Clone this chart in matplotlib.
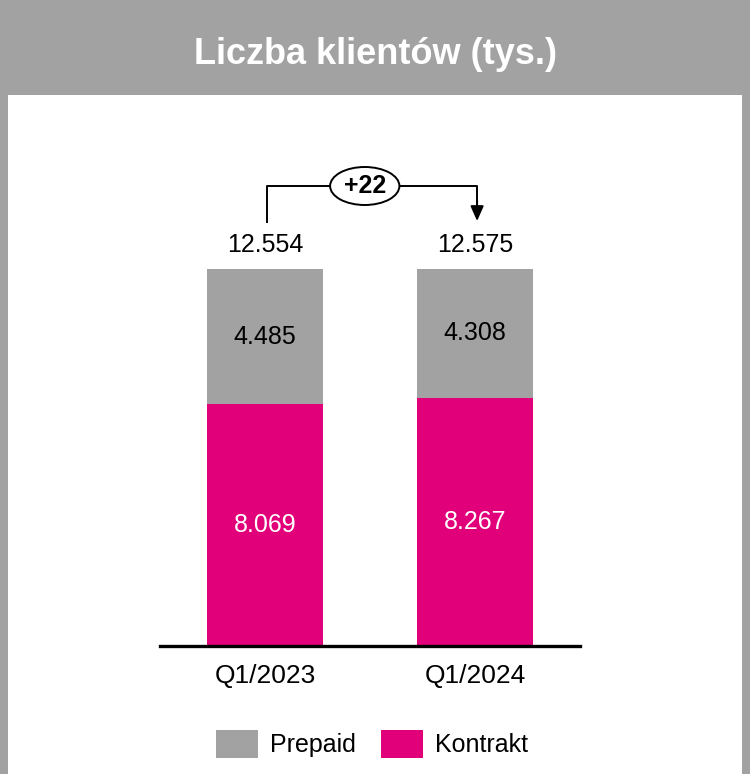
import matplotlib
matplotlib.use("Agg")
import matplotlib.pyplot as plt
from matplotlib.patches import Rectangle, Ellipse, Patch

categories = ["Q1/2023", "Q1/2024"]
kontrakt = [8.069, 8.267]
prepaid = [4.485, 4.308]
totals = [12.554, 12.575]
delta_label = "+22"
title = "Liczba klientów (tys.)"

GRAY = "#a2a2a2"
MAGENTA = "#e2007a"
FONT = ["Liberation Sans", "DejaVu Sans"]
plt.rcParams["font.family"] = FONT

W, H = 750, 774
fig = plt.figure(figsize=(W / 100, H / 100), dpi=100)
fig.patch.set_facecolor(GRAY)

# white panel
fig.patches.append(Rectangle((8 / W, 0), (742 - 8) / W, (H - 95) / H,
                             transform=fig.transFigure, facecolor="white",
                             edgecolor="none", zorder=-1))
fig.text(375 / W, 1 - 55 / H, title, ha="center", va="center",
         color="white", fontsize=26, fontweight="bold")

# axes: x 160..580 px, y baseline 646 .. top 150
ax = fig.add_axes([160 / W, 1 - 646 / H, 420 / W, (646 - 150) / H])
ax.set_xlim(-0.5, 1.5)
ax.set_ylim(0, (646 - 150) / 30.0)
ax.patch.set_alpha(0)
x = list(range(len(categories)))
bw = 0.557
ax.bar(x, kontrakt, width=bw, color=MAGENTA, zorder=2)
ax.bar(x, prepaid, width=bw, bottom=kontrakt, color=GRAY, zorder=2)

for i in x:
    ax.text(i, kontrakt[i] / 2, f"{kontrakt[i]:.3f}", ha="center", va="center",
            color="white", fontsize=18)
    ax.text(i, kontrakt[i] + prepaid[i] / 2, f"{prepaid[i]:.3f}", ha="center",
            va="center", color="black", fontsize=18)
    ax.text(i, totals[i] + 0.8, f"{totals[i]:.3f}", ha="center", va="center",
            color="black", fontsize=18)

for s in ["left", "right", "top"]:
    ax.spines[s].set_visible(False)
ax.spines["bottom"].set_linewidth(2.4)
ax.spines["bottom"].set_zorder(3)
ax.set_yticks([])
ax.set_xticks(x)
ax.set_xticklabels(categories, fontsize=19)
ax.tick_params(axis="x", length=0, pad=13)

# bracket annotation (positions in data units, 30 px per unit)
y_br = (646 - 186) / 30.0
x0, x1 = 0.01, 1.01
y_lo_left = (646 - 222) / 30.0
y_tip = (646 - 221) / 30.0
ex = 0.505 - 0.03
ax.plot([x0, x0, ex - 0.16], [y_lo_left, y_br, y_br], color="black", lw=1.4,
        clip_on=False)
ax.plot([ex + 0.16, x1, x1], [y_br, y_br, y_tip + 0.5], color="black",
        lw=1.4, clip_on=False)
ax.annotate("", xy=(x1, y_tip), xytext=(x1, y_tip + 0.7),
            arrowprops=dict(arrowstyle="-|>,head_length=0.9,head_width=0.4",
                            color="black", lw=1.4, shrinkA=0, shrinkB=0))
ax.add_patch(Ellipse((ex, y_br), 0.33, 38 / 30, facecolor="white",
                     edgecolor="black", lw=1.4, clip_on=False, zorder=4))
ax.text(ex, y_br, delta_label, ha="center", va="center", fontsize=18,
        fontweight="bold", zorder=5)

handles = [Patch(facecolor=GRAY, edgecolor="none", label="Prepaid"),
           Patch(facecolor=MAGENTA, edgecolor="none", label="Kontrakt")]
fig.legend(handles=handles, loc="center", bbox_to_anchor=(372 / W, 1 - 744 / H),
           ncol=2, frameon=False, fontsize=18, handlelength=1.68,
           handleheight=1.3, handletextpad=0.5, columnspacing=1.0)

fig.savefig("out.png", dpi=100, facecolor=fig.get_facecolor())
